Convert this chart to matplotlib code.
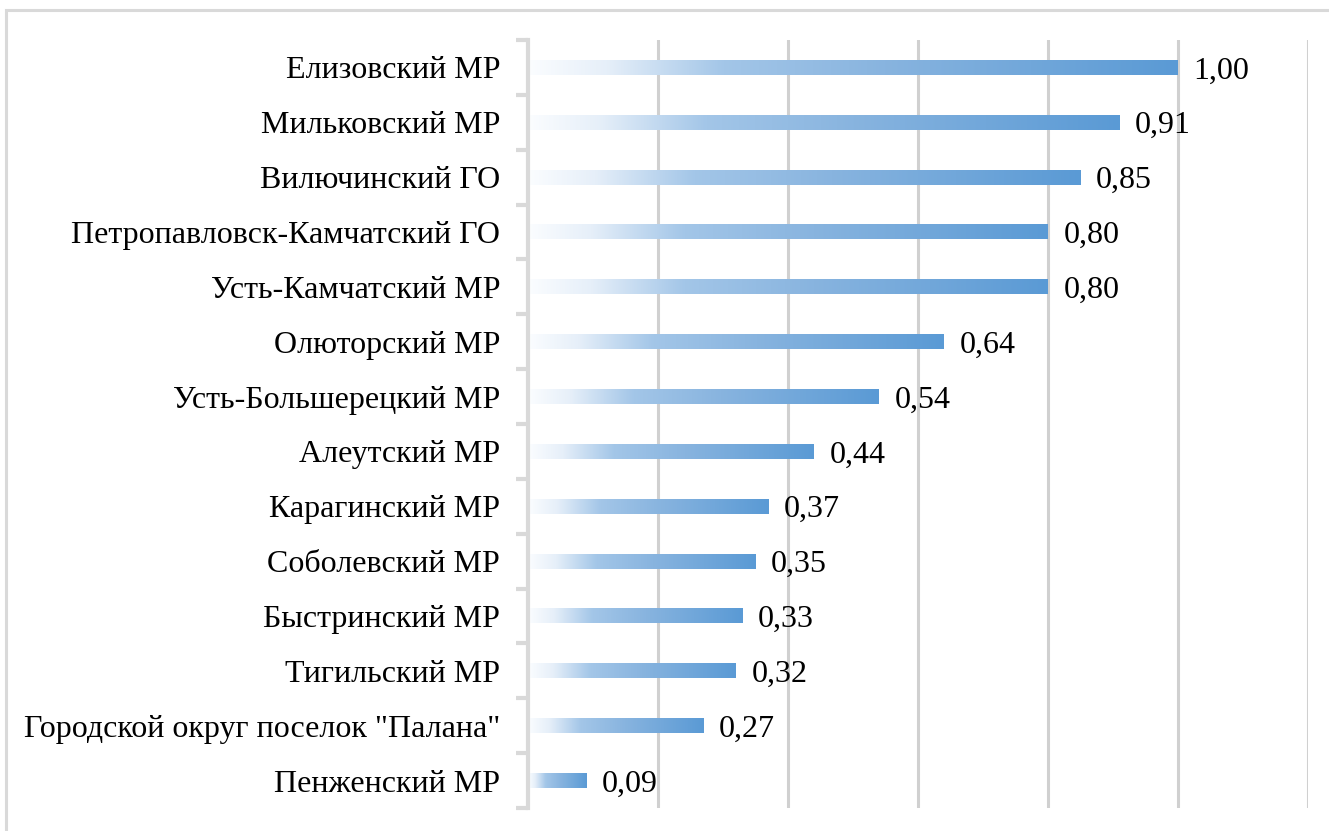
import matplotlib
matplotlib.use("Agg")
import matplotlib.pyplot as plt
import numpy as np
from matplotlib.colors import LinearSegmentedColormap
from matplotlib.patches import Rectangle

categories = ["Елизовский МР", "Мильковский МР", "Вилючинский ГО",
              "Петропавловск-Камчатский ГО", "Усть-Камчатский МР", "Олюторский МР",
              "Усть-Большерецкий МР", "Алеутский МР", "Карагинский МР",
              "Соболевский МР", "Быстринский МР", "Тигильский МР",
              "Городской округ поселок \"Палана\"", "Пенженский МР"]
values = [1.00, 0.91, 0.85, 0.80, 0.80, 0.64, 0.54, 0.44, 0.37, 0.35, 0.33, 0.32, 0.27, 0.09]
labels = ["1,00", "0,91", "0,85", "0,80", "0,80", "0,64", "0,54", "0,44", "0,37",
          "0,35", "0,33", "0,32", "0,27", "0,09"]

plt.rcParams['font.family'] = ['Liberation Serif', 'DejaVu Serif']

W, H = 1329, 831
fig = plt.figure(figsize=(W / 100, H / 100), dpi=100)
ax = fig.add_axes([528 / W, 1 - 808 / H, (1308 - 528) / W, (808 - 40) / H])

cmap = LinearSegmentedColormap.from_list(
    "g", [(0.0, "#FBFDFF"), (0.12, "#E6EFF9"), (0.3, "#A3C6E8"), (0.55, "#88B4DF"), (1.0, "#5A9AD5")])
grad = np.linspace(0, 1, 256).reshape(1, -1)

FS = 23
n = len(categories)
bh = 0.27
for i, (c, v, lab) in enumerate(zip(categories, values, labels)):
    y = n - 1 - i
    ax.imshow(grad, cmap=cmap, aspect="auto", extent=[0, v, y - bh / 2, y + bh / 2],
              interpolation="bilinear", zorder=2)
    ax.text(v + 0.024, y, lab, va="center_baseline", ha="left", fontsize=FS,
            color="black", zorder=3)

ax.set_xlim(0, 1.2)
ax.set_ylim(-0.5, n - 0.5)
ax.set_xticks(np.arange(0.2, 1.21, 0.2))
ax.xaxis.grid(True, color="#D0D0D0", linewidth=2.2, zorder=0)
ax.set_axisbelow(True)
ax.tick_params(axis="x", length=0, labelbottom=False)

ax.set_yticks(np.arange(n + 1) - 0.5)
ax.set_yticklabels([])
ax.set_yticks(np.arange(n), minor=True)
ax.set_yticklabels(categories[::-1], minor=True, fontsize=FS)
ax.tick_params(axis="y", which="minor", length=0, pad=20)
ax.tick_params(axis="y", which="major", length=9, width=3, color="#D9D9D9")

for s in ["top", "right", "bottom"]:
    ax.spines[s].set_visible(False)
ax.spines["left"].set_color("#D9D9D9")
ax.spines["left"].set_linewidth(3)

fig.patches.append(Rectangle((6 / W, -0.1), 1.2, (H - 10) / H + 0.1, transform=fig.transFigure,
                             fill=False, edgecolor="#D9D9D9", linewidth=2.2, zorder=0))

fig.savefig("out.png", dpi=100)
